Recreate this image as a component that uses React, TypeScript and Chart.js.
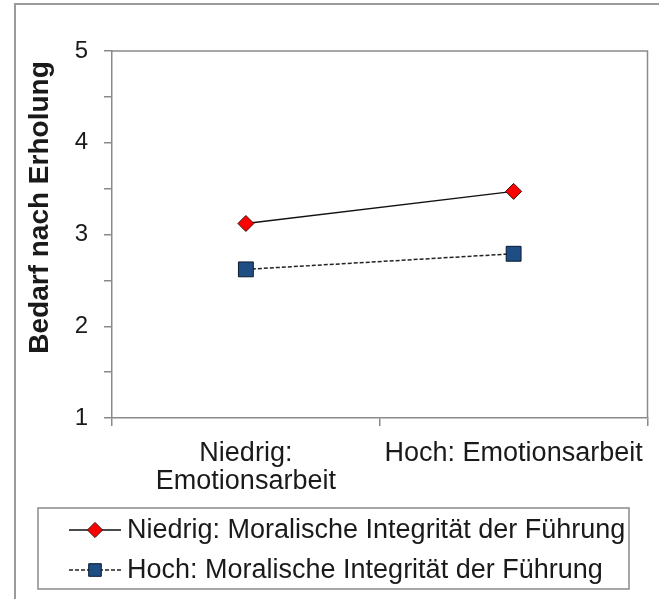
import React, { useEffect, useRef } from 'react';
import { Chart, registerables } from 'chart.js';
import { drawPoint } from 'chart.js/helpers';

Chart.register(...registerables);

const categories = [['Niedrig:', 'Emotionsarbeit'], ['Hoch: Emotionsarbeit']];
const seriesLabels = [
  'Niedrig: Moralische Integrität der Führung',
  'Hoch: Moralische Integrität der Führung',
];
const niedrigIntegritaet = [3.12, 3.47];
const hochIntegritaet = [2.62, 2.79];
const yMin = 1;
const yMax = 5;
const yStep = 0.5;
const yTitle = 'Bedarf nach Erholung';

const FONT = '"Liberation Sans", Arial, Helvetica, sans-serif';
const AXIS = '#8a8a8a';
const TEXT = '#1a1a1a';

const decorPlugin = {
  id: 'decor',
  afterDraw(chart: any) {
    const { ctx, chartArea: a } = chart;
    ctx.save();
    // plot frame (top + right)
    ctx.strokeStyle = AXIS;
    ctx.lineWidth = 1.5;
    ctx.beginPath();
    ctx.moveTo(a.left, a.top);
    ctx.lineTo(a.right, a.top);
    ctx.lineTo(a.right, a.bottom);
    ctx.stroke();

    // y axis title
    ctx.save();
    ctx.translate(40, (a.top + a.bottom) / 2 - 27);
    ctx.rotate(-Math.PI / 2);
    ctx.font = 'bold 28px ' + FONT;
    ctx.fillStyle = TEXT;
    ctx.textAlign = 'center';
    ctx.textBaseline = 'middle';
    ctx.fillText(yTitle, 0, 0);
    ctx.restore();

    // legend box
    const bx = 38, by = 508, bw = 591, bh = 81;
    ctx.strokeStyle = AXIS;
    ctx.lineWidth = 1.5;
    ctx.strokeRect(bx, by, bw, bh);
    const rows = [530, 570];
    const scaleF = [0.95, 0.85];
    chart.data.datasets.forEach((ds: any, i: number) => {
      const y = rows[i];
      ctx.save();
      ctx.strokeStyle = ds.borderColor;
      ctx.lineWidth = ds.borderWidth;
      ctx.setLineDash(ds.borderDash || []);
      ctx.beginPath();
      ctx.moveTo(69, y);
      ctx.lineTo(121, y);
      ctx.stroke();
      ctx.restore();
      ctx.save();
      ctx.fillStyle = ds.pointBackgroundColor;
      ctx.strokeStyle = ds.pointBorderColor;
      ctx.lineWidth = ds.pointBorderWidth;
      drawPoint(ctx, { pointStyle: ds.pointStyle, radius: ds.pointRadius * scaleF[i], rotation: 0, borderWidth: ds.pointBorderWidth }, 95, y);
      ctx.restore();
      ctx.fillStyle = TEXT;
      ctx.font = '27px ' + FONT;
      ctx.textAlign = 'left';
      ctx.textBaseline = 'middle';
      ctx.fillText(ds.label, 127, y + 1);
    });
    ctx.restore();
  },
};

export default function App() {
  const ref = useRef<HTMLCanvasElement | null>(null);
  useEffect(() => {
    if (!ref.current) return;
    const chart = new Chart(ref.current, {
      type: 'line',
      data: {
        labels: categories,
        datasets: [
          {
            label: seriesLabels[0],
            data: niedrigIntegritaet,
            borderColor: '#111111',
            borderWidth: 1.5,
            pointStyle: 'rectRot',
            pointRadius: 8,
            pointBackgroundColor: '#ff0000',
            pointBorderColor: '#3a1010',
            pointBorderWidth: 1,
          },
          {
            label: seriesLabels[1],
            data: hochIntegritaet,
            borderColor: '#222222',
            borderWidth: 1.5,
            borderDash: [4, 2],
            pointStyle: 'rect',
            pointRadius: 10.5,
            pointBackgroundColor: '#1f4e85',
            pointBorderColor: '#0a1a2e',
            pointBorderWidth: 1,
          },
        ],
      },
      options: {
        responsive: false,
        animation: false,
        layout: { padding: { left: 20, right: 5, top: 51, bottom: 91 } },
        plugins: { legend: { display: false }, tooltip: { enabled: false } },
        scales: {
          x: {
            type: 'category',
            offset: true,
            border: { color: AXIS, width: 1.5 },
            grid: { offset: true, drawOnChartArea: false, color: AXIS, lineWidth: 1.5, tickLength: 8 },
            ticks: {
              maxRotation: 0,
              autoSkip: false,
              padding: 13,
              color: TEXT,
              font: { family: FONT, size: 27, lineHeight: 1.05 },
            },
            afterFit: (s: any) => {
              s.height = 90;
              s.paddingLeft = 0;
              s.paddingRight = 0;
            },
          },
          y: {
            min: yMin,
            max: yMax,
            border: { color: AXIS, width: 1.5 },
            grid: { drawOnChartArea: false, color: AXIS, lineWidth: 1.5, tickLength: 8 },
            ticks: {
              stepSize: yStep,
              padding: 16,
              color: TEXT,
              font: { family: FONT, size: 24 },
              callback: (v: any) => (Number.isInteger(Number(v)) ? String(v) : ''),
            },
            afterFit: (s: any) => {
              s.width = 92;
              s.paddingTop = 0;
              s.paddingBottom = 0;
            },
          },
        },
      },
      plugins: [decorPlugin],
    });
    return () => chart.destroy();
  }, []);

  return (
    <div style={{ position: 'absolute', left: 0, top: 0, width: 659, height: 599, background: '#fff', overflow: 'hidden' }}>
      <div style={{ position: 'absolute', left: 14, top: 3, width: 700, height: 700, borderLeft: '2px solid #9a9a9a', borderTop: '2px solid #9a9a9a' }} />
      <canvas ref={ref} width={659} height={599} style={{ position: 'absolute', left: 0, top: 0 }} />
    </div>
  );
}
